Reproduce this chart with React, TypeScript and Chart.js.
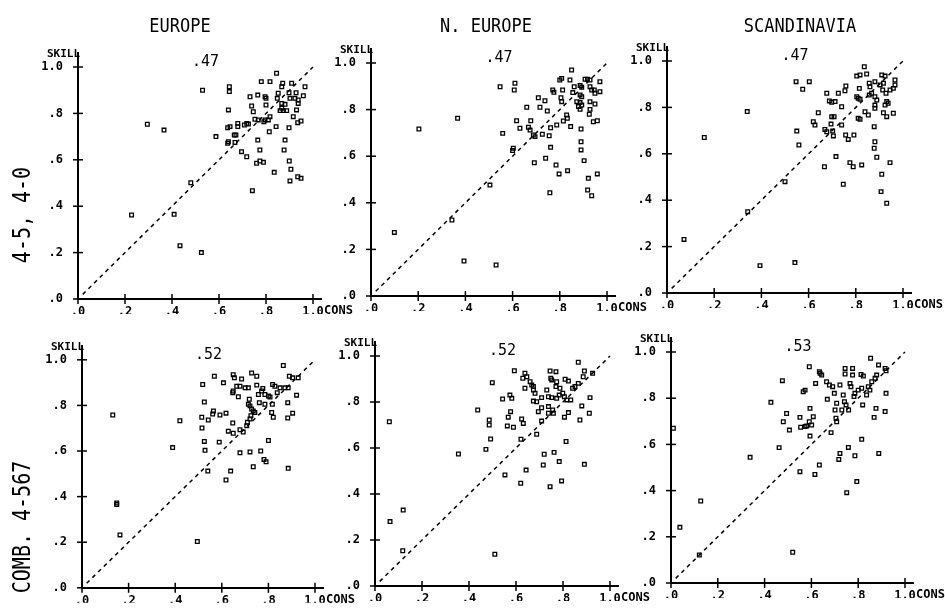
import React, { useEffect, useRef } from "react";
import { Chart, registerables } from "chart.js";

Chart.register(...registerables);

// ---------------- data ----------------
const regionTitles = ["EUROPE", "N. EUROPE", "SCANDINAVIA"];
const rowLabels = ["4-5, 4-0", "COMB. 4-567"];
const corrLabels = ["47", "47", "47", "52", "52", "53"];
const tickValues = [0, 0.2, 0.4, 0.6, 0.8, 1.0];
const yTickLabels = [".0", ".2", ".4", ".6", ".8", "1.0"];
const xTickLabels = [".0", ".2", ".4", ".6", ".8", "1.0"];
const yAxisName = "SKILL";
const xAxisName = "CONS";
const diagonal = [
  { x: 0.02, y: 0.02 },
  { x: 1.0, y: 1.0 },
];

type P = [number, number];

const europe40: P[] = [
  [0.53, 0.9], [0.644, 0.915], [0.644, 0.894], [0.64, 0.815], [0.845, 0.973], [0.78, 0.937], [0.817, 0.937],
  [0.871, 0.93], [0.867, 0.915], [0.909, 0.93], [0.966, 0.915], [0.732, 0.872], [0.765, 0.879], [0.796, 0.872],
  [0.8, 0.865], [0.852, 0.887], [0.848, 0.865], [0.898, 0.889], [0.928, 0.889], [0.959, 0.876], [0.902, 0.865],
  [0.923, 0.865], [0.937, 0.858], [0.867, 0.843], [0.881, 0.839], [0.937, 0.843], [0.739, 0.832], [0.8, 0.836],
  [0.867, 0.822], [0.86, 0.812], [0.874, 0.812], [0.888, 0.812], [0.93, 0.815], [0.746, 0.807], [0.916, 0.786],
  [0.817, 0.786], [0.81, 0.772], [0.796, 0.772], [0.791, 0.764], [0.767, 0.772], [0.753, 0.775], [0.949, 0.767],
  [0.935, 0.76], [0.843, 0.743], [0.898, 0.738], [0.708, 0.75], [0.718, 0.757], [0.725, 0.754], [0.68, 0.757],
  [0.68, 0.743], [0.637, 0.738], [0.647, 0.743], [0.814, 0.721], [0.587, 0.7], [0.665, 0.707], [0.672, 0.707],
  [0.64, 0.678], [0.637, 0.671], [0.668, 0.675], [0.765, 0.685], [0.881, 0.685], [0.696, 0.635], [0.718, 0.613],
  [0.774, 0.642], [0.877, 0.642], [0.76, 0.585], [0.774, 0.595], [0.789, 0.589], [0.899, 0.595], [0.835, 0.546],
  [0.906, 0.559], [0.902, 0.509], [0.935, 0.527], [0.949, 0.52], [0.742, 0.467], [0.295, 0.753], [0.366, 0.728],
  [0.48, 0.501], [0.228, 0.362], [0.409, 0.365], [0.434, 0.23], [0.525, 0.2],
];

const nEurope40: P[] = [
  [0.547, 0.898], [0.61, 0.913], [0.607, 0.884], [0.85, 0.97], [0.8, 0.927], [0.808, 0.934], [0.843, 0.927],
  [0.917, 0.93], [0.907, 0.93], [0.928, 0.927], [0.97, 0.92], [0.861, 0.898], [0.886, 0.903], [0.893, 0.896],
  [0.928, 0.898], [0.935, 0.884], [0.949, 0.87], [0.97, 0.877], [0.77, 0.884], [0.775, 0.874], [0.812, 0.884],
  [0.855, 0.873], [0.886, 0.863], [0.893, 0.855], [0.946, 0.884], [0.709, 0.851], [0.737, 0.838], [0.805, 0.851],
  [0.872, 0.834], [0.886, 0.83], [0.893, 0.82], [0.879, 0.813], [0.886, 0.801], [0.928, 0.834], [0.949, 0.824],
  [0.928, 0.801], [0.925, 0.78], [0.808, 0.834], [0.66, 0.81], [0.716, 0.81], [0.747, 0.794], [0.829, 0.777],
  [0.832, 0.763], [0.815, 0.751], [0.942, 0.748], [0.959, 0.752], [0.617, 0.752], [0.677, 0.752], [0.631, 0.72],
  [0.667, 0.724], [0.674, 0.712], [0.761, 0.722], [0.787, 0.734], [0.846, 0.727], [0.89, 0.717], [0.558, 0.698],
  [0.688, 0.691], [0.695, 0.684], [0.726, 0.694], [0.755, 0.688], [0.761, 0.638], [0.603, 0.634], [0.6, 0.624],
  [0.89, 0.662], [0.89, 0.627], [0.903, 0.581], [0.74, 0.591], [0.692, 0.572], [0.784, 0.562], [0.833, 0.538],
  [0.797, 0.524], [0.921, 0.505], [0.959, 0.524], [0.918, 0.455], [0.935, 0.43], [0.758, 0.443], [0.504, 0.476],
  [0.099, 0.273], [0.203, 0.717], [0.367, 0.763], [0.394, 0.15], [0.53, 0.133], [0.343, 0.326],
];

const scand40: P[] = [
  [0.547, 0.911], [0.603, 0.911], [0.575, 0.878], [0.836, 0.975], [0.804, 0.935], [0.818, 0.94], [0.846, 0.944],
  [0.91, 0.94], [0.924, 0.935], [0.758, 0.892], [0.754, 0.872], [0.815, 0.882], [0.857, 0.904], [0.86, 0.889],
  [0.881, 0.911], [0.903, 0.897], [0.917, 0.904], [0.966, 0.918], [0.966, 0.897], [0.959, 0.882], [0.945, 0.875],
  [0.914, 0.875], [0.928, 0.861], [0.677, 0.861], [0.726, 0.861], [0.804, 0.846], [0.81, 0.839], [0.818, 0.835],
  [0.857, 0.853], [0.867, 0.861], [0.688, 0.828], [0.698, 0.822], [0.712, 0.825], [0.881, 0.846], [0.889, 0.832],
  [0.881, 0.81], [0.881, 0.796], [0.931, 0.825], [0.937, 0.818], [0.924, 0.81], [0.74, 0.803], [0.641, 0.777],
  [0.708, 0.76], [0.698, 0.76], [0.839, 0.781], [0.853, 0.767], [0.917, 0.777], [0.931, 0.76], [0.959, 0.775],
  [0.81, 0.753], [0.818, 0.749], [0.62, 0.738], [0.627, 0.724], [0.695, 0.728], [0.74, 0.724], [0.669, 0.705],
  [0.677, 0.695], [0.702, 0.698], [0.878, 0.717], [0.55, 0.698], [0.705, 0.677], [0.757, 0.681], [0.768, 0.662],
  [0.792, 0.681], [0.559, 0.638], [0.881, 0.652], [0.878, 0.624], [0.716, 0.588], [0.889, 0.585], [0.667, 0.544],
  [0.775, 0.562], [0.789, 0.544], [0.825, 0.552], [0.945, 0.562], [0.747, 0.469], [0.91, 0.512], [0.907, 0.437],
  [0.931, 0.387], [0.5, 0.48], [0.072, 0.231], [0.158, 0.67], [0.34, 0.782], [0.342, 0.35], [0.394, 0.118],
  [0.542, 0.131],
];

const europeComb: P[] = [
  [0.568, 0.928], [0.518, 0.892], [0.607, 0.899], [0.649, 0.935], [0.654, 0.921], [0.685, 0.916], [0.728, 0.942],
  [0.75, 0.928], [0.864, 0.975], [0.89, 0.928], [0.904, 0.921], [0.928, 0.921], [0.664, 0.884], [0.678, 0.884],
  [0.7, 0.877], [0.714, 0.877], [0.649, 0.863], [0.647, 0.856], [0.75, 0.889], [0.776, 0.874], [0.771, 0.863],
  [0.785, 0.848], [0.8, 0.841], [0.807, 0.837], [0.757, 0.848], [0.818, 0.892], [0.828, 0.884], [0.85, 0.877],
  [0.871, 0.877], [0.885, 0.877], [0.838, 0.856], [0.921, 0.845], [0.671, 0.838], [0.718, 0.827], [0.714, 0.805],
  [0.721, 0.798], [0.761, 0.812], [0.785, 0.805], [0.817, 0.805], [0.883, 0.812], [0.525, 0.815], [0.564, 0.776],
  [0.561, 0.762], [0.592, 0.758], [0.618, 0.766], [0.728, 0.784], [0.735, 0.776], [0.742, 0.769], [0.725, 0.755],
  [0.721, 0.74], [0.814, 0.769], [0.821, 0.748], [0.904, 0.766], [0.883, 0.745], [0.514, 0.748], [0.542, 0.736],
  [0.71, 0.726], [0.707, 0.711], [0.647, 0.723], [0.515, 0.701], [0.628, 0.687], [0.649, 0.678], [0.678, 0.693],
  [0.692, 0.683], [0.525, 0.642], [0.589, 0.639], [0.8, 0.646], [0.528, 0.603], [0.678, 0.592], [0.721, 0.596],
  [0.767, 0.6], [0.781, 0.563], [0.79, 0.553], [0.735, 0.531], [0.885, 0.524], [0.54, 0.512], [0.638, 0.512],
  [0.618, 0.473], [0.132, 0.758], [0.42, 0.733], [0.389, 0.615], [0.149, 0.372], [0.149, 0.365], [0.163, 0.232],
  [0.495, 0.203],
];

const nEuropeComb: P[] = [
  [0.865, 0.973], [0.593, 0.936], [0.745, 0.935], [0.77, 0.932], [0.891, 0.935], [0.926, 0.925], [0.638, 0.925],
  [0.646, 0.91], [0.629, 0.903], [0.66, 0.888], [0.667, 0.874], [0.674, 0.867], [0.748, 0.903], [0.752, 0.896],
  [0.773, 0.888], [0.77, 0.867], [0.809, 0.899], [0.823, 0.891], [0.886, 0.91], [0.499, 0.884], [0.865, 0.881],
  [0.851, 0.867], [0.841, 0.86], [0.638, 0.86], [0.674, 0.852], [0.681, 0.838], [0.731, 0.852], [0.787, 0.86],
  [0.799, 0.838], [0.806, 0.823], [0.816, 0.809], [0.709, 0.819], [0.738, 0.823], [0.752, 0.819], [0.773, 0.816],
  [0.784, 0.83], [0.833, 0.809], [0.915, 0.819], [0.543, 0.813], [0.574, 0.83], [0.582, 0.816], [0.674, 0.804],
  [0.688, 0.801], [0.709, 0.775], [0.738, 0.78], [0.756, 0.765], [0.759, 0.751], [0.738, 0.751], [0.695, 0.758],
  [0.88, 0.783], [0.823, 0.754], [0.806, 0.734], [0.912, 0.751], [0.872, 0.722], [0.577, 0.758], [0.567, 0.734],
  [0.624, 0.726], [0.631, 0.707], [0.709, 0.717], [0.486, 0.722], [0.486, 0.7], [0.563, 0.696], [0.589, 0.69],
  [0.688, 0.66], [0.621, 0.638], [0.492, 0.639], [0.472, 0.594], [0.813, 0.628], [0.72, 0.573], [0.762, 0.581],
  [0.784, 0.541], [0.716, 0.526], [0.891, 0.529], [0.643, 0.504], [0.553, 0.483], [0.62, 0.447], [0.794, 0.457],
  [0.745, 0.432], [0.061, 0.714], [0.064, 0.28], [0.12, 0.33], [0.118, 0.153], [0.355, 0.574], [0.437, 0.765],
  [0.51, 0.138],
];

const scandComb: P[] = [
  [0.853, 0.973], [0.591, 0.936], [0.744, 0.929], [0.776, 0.929], [0.744, 0.905], [0.776, 0.9], [0.887, 0.944],
  [0.915, 0.929], [0.919, 0.919], [0.634, 0.915], [0.644, 0.9], [0.637, 0.908], [0.812, 0.903], [0.822, 0.896],
  [0.879, 0.9], [0.872, 0.886], [0.858, 0.871], [0.618, 0.864], [0.665, 0.871], [0.677, 0.857], [0.691, 0.85],
  [0.722, 0.857], [0.765, 0.864], [0.769, 0.85], [0.8, 0.835], [0.815, 0.843], [0.843, 0.85], [0.85, 0.835],
  [0.573, 0.835], [0.565, 0.828], [0.919, 0.821], [0.786, 0.821], [0.782, 0.807], [0.836, 0.814], [0.698, 0.821],
  [0.736, 0.814], [0.668, 0.795], [0.741, 0.785], [0.748, 0.771], [0.708, 0.778], [0.819, 0.771], [0.876, 0.756],
  [0.915, 0.742], [0.594, 0.756], [0.701, 0.749], [0.73, 0.749], [0.759, 0.749], [0.868, 0.717], [0.494, 0.734],
  [0.551, 0.717], [0.608, 0.72], [0.705, 0.713], [0.708, 0.698], [0.48, 0.698], [0.591, 0.698], [0.601, 0.684],
  [0.58, 0.68], [0.554, 0.674], [0.573, 0.677], [0.506, 0.662], [0.684, 0.651], [0.594, 0.636], [0.815, 0.622],
  [0.758, 0.587], [0.722, 0.561], [0.717, 0.535], [0.786, 0.551], [0.888, 0.561], [0.634, 0.511], [0.551, 0.482],
  [0.615, 0.47], [0.794, 0.439], [0.751, 0.391], [0.038, 0.241], [0.127, 0.355], [0.338, 0.544], [0.427, 0.782],
  [0.52, 0.133], [0.121, 0.121], [0.01, 0.67], [0.476, 0.876], [0.462, 0.586],
];

const panelData: P[][] = [europe40, nEurope40, scand40, europeComb, nEuropeComb, scandComb];

// ---------------- layout ----------------
const W = 945;
const H = 610;
const XMAX = 1.035;
const YMAX = 1.06;
const YW = 50;
const XH = 15;
const MONO = '"DejaVu Sans Mono", "Liberation Mono", monospace';

// pixel position of the origin and pixels per unit for each panel
const PANELS = [
  { ox: 78, oy: 299, sx: 235, sy: 232 },
  { ox: 371, oy: 296, sx: 236, sy: 233 },
  { ox: 667, oy: 293, sx: 236, sy: 232 },
  { ox: 82, oy: 591, sx: 233, sy: 231 },
  { ox: 375, oy: 586, sx: 235, sy: 230 },
  { ox: 671, oy: 583, sx: 234, sy: 231 },
];

const decorPlugin = {
  id: "decor",
  afterDraw(chart: any, _args: any, opts: any) {
    const { ctx } = chart;
    const x = chart.scales.x;
    const y = chart.scales.y;
    const x0 = x.getPixelForValue(0);
    const y0 = y.getPixelForValue(0);
    ctx.save();
    ctx.strokeStyle = "#000";
    ctx.lineWidth = 1.5;
    for (const v of tickValues) {
      const py = y.getPixelForValue(v);
      ctx.beginPath();
      ctx.moveTo(x0 - 5, py);
      ctx.lineTo(x0 + 5, py);
      ctx.stroke();
      const px = x.getPixelForValue(v);
      ctx.beginPath();
      ctx.moveTo(px, y0 - 5);
      ctx.lineTo(px, y0 + 5);
      ctx.stroke();
    }
    ctx.fillStyle = "#000";
    ctx.font = `bold 11px ${MONO}`;
    ctx.textAlign = "right";
    ctx.textBaseline = "alphabetic";
    ctx.fillText(yAxisName, x0 + 2, y.top + 4);
    ctx.font = `bold 12px ${MONO}`;
    ctx.textAlign = "left";
    ctx.textBaseline = "top";
    ctx.fillText(xAxisName, x.getPixelForValue(1) + 11, y0 + 6);
    ctx.font = `15px ${MONO}`;
    ctx.textBaseline = "middle";
    ctx.fillText("." + opts.corr, x.getPixelForValue(0.485), y.getPixelForValue(1.02));
    ctx.restore();
  },
};

function labelFor(list: string[], v: number) {
  const i = tickValues.findIndex((t) => Math.abs(t - v) < 1e-6);
  return i >= 0 ? list[i] : "";
}

function Panel({ index }: { index: number }) {
  const ref = useRef<HTMLCanvasElement | null>(null);
  useEffect(() => {
    if (!ref.current) return;
    const g = PANELS[index];
    const tickFont = { family: MONO, size: 12, weight: "bold" as const };
    const chart = new Chart(ref.current, {
      type: "scatter",
      data: {
        datasets: [
          {
            type: "scatter",
            data: panelData[index].map(([px, py]) => ({ x: px, y: py })),
            pointStyle: "rect",
            pointRadius: 2.6,
            borderColor: "#000",
            borderWidth: 1.3,
            backgroundColor: "rgba(0,0,0,0)",
            clip: false as any,
          },
          {
            type: "line",
            data: diagonal,
            borderColor: "#000",
            borderWidth: 1.5,
            borderDash: [4, 4],
            pointRadius: 0,
            fill: false,
          } as any,
        ],
      },
      options: {
        animation: false,
        responsive: false,
        devicePixelRatio: 1,
        events: [],
        layout: {
          padding: {
            left: g.ox - YW,
            top: g.oy - g.sy * YMAX,
            right: W - (g.ox + g.sx * XMAX),
            bottom: H - g.oy - XH,
          },
        },
        plugins: {
          legend: { display: false },
          tooltip: { enabled: false },
          decor: { corr: corrLabels[index] },
        } as any,
        scales: {
          x: {
            type: "linear",
            min: 0,
            max: XMAX,
            afterFit: (s: any) => {
              s.height = XH;
            },
            afterBuildTicks: (s: any) => {
              s.ticks = tickValues.map((v) => ({ value: v }));
            },
            ticks: {
              callback: (v: any) => labelFor(xTickLabels, Number(v)),
              padding: 6,
              font: tickFont,
              color: "#000",
              maxRotation: 0,
              autoSkip: false,
            },
            grid: { display: false, drawTicks: false },
            border: { display: true, color: "#000", width: 2 },
          },
          y: {
            type: "linear",
            min: 0,
            max: YMAX,
            afterFit: (s: any) => {
              s.width = YW;
            },
            afterBuildTicks: (s: any) => {
              s.ticks = tickValues.map((v) => ({ value: v }));
            },
            ticks: {
              callback: (v: any) => labelFor(yTickLabels, Number(v)),
              padding: 15,
              font: tickFont,
              color: "#000",
              autoSkip: false,
            },
            grid: { display: false, drawTicks: false },
            border: { display: true, color: "#000", width: 2 },
          },
        },
      },
      plugins: [decorPlugin],
    });
    return () => chart.destroy();
  }, [index]);
  return (
    <canvas
      ref={ref}
      width={W}
      height={H}
      style={{ position: "absolute", left: 0, top: 0, width: W, height: H }}
    />
  );
}

const titlePos = [
  { x: 180, y: 25 },
  { x: 486, y: 25 },
  { x: 800, y: 25 },
];
const rowPos = [
  { x: 22, y: 215 },
  { x: 22, y: 527 },
];

export default function App() {
  return (
    <div
      style={{
        position: "absolute",
        left: 0,
        top: 0,
        width: W,
        height: H,
        background: "#fff",
        overflow: "hidden",
      }}
    >
      {panelData.map((_, i) => (
        <Panel key={i} index={i} />
      ))}
      {regionTitles.map((t, i) => (
        <div
          key={t}
          style={{
            position: "absolute",
            left: titlePos[i].x,
            top: titlePos[i].y,
            transform: "translate(-50%, -50%) scaleY(1.15)",
            fontFamily: MONO,
            fontSize: 17,
            fontWeight: 300,
            color: "#000",
            whiteSpace: "nowrap",
          }}
        >
          {t}
        </div>
      ))}
      {rowLabels.map((t, i) => (
        <div
          key={t}
          style={{
            position: "absolute",
            left: rowPos[i].x,
            top: rowPos[i].y,
            transform: "translate(-50%, -50%) rotate(-90deg) scaleY(1.2)",
            fontFamily: MONO,
            fontSize: 20,
            color: "#000",
            whiteSpace: "nowrap",
            lineHeight: 1,
          }}
        >
          {t}
        </div>
      ))}
    </div>
  );
}
